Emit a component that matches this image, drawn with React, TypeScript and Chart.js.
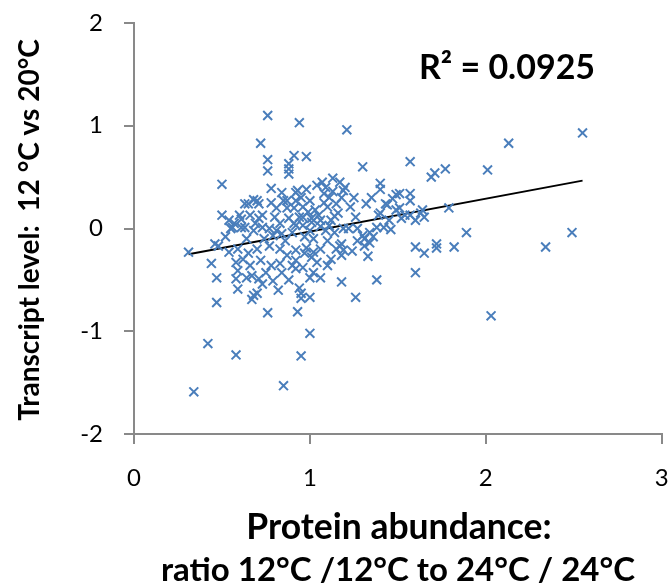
import React, { useEffect, useRef } from "react";
import { Chart, registerables } from "chart.js";

Chart.register(...registerables);

// ---- data: [protein ratio, transcript level] ----
const upperPoints: [number, number][] = [
  [0.76, 1.1], [0.94, 1.03], [1.21, 0.96], [0.72, 0.83], [0.76, 0.67], [0.76, 0.56],
  [0.5, 0.43], [0.88, 0.63], [0.88, 0.58], [0.88, 0.53], [0.91, 0.71], [0.98, 0.7],
  [1.3, 0.6], [1.57, 0.65], [2.55, 0.93], [2.13, 0.83], [2.01, 0.57], [1.77, 0.58],
  [1.69, 0.5], [1.71, 0.54],
];

const rightPoints: [number, number][] = [
  [1.57, 0.34], [1.57, 0.27], [1.51, 0.34], [1.79, 0.2], [1.64, 0.18], [1.54, 0.13],
  [1.57, 0.13], [1.6, 0.08], [1.65, 0.11], [1.63, 0.15], [1.89, -0.04], [2.49, -0.04],
  [2.34, -0.18], [1.82, -0.18], [1.6, -0.18], [1.72, -0.15], [1.72, -0.19], [1.65, -0.24],
  [1.6, -0.43], [2.03, -0.85], [1.51, 0.2],
];

const midUpperPoints: [number, number][] = [
  [1.4, 0.44], [1.4, 0.38], [1.49, 0.33], [1.47, 0.29], [1.44, 0.23], [1.32, 0.24],
  [1.23, 0.21], [1.26, 0.11], [1.39, 0.13], [1.49, 0.18], [1.13, 0.49], [1.17, 0.45],
  [1.07, 0.45], [1.04, 0.42], [0.98, 0.38], [0.93, 0.37], [1.19, 0.37], [1.18, 0.3],
  [1.11, 0.3], [1.08, 0.34], [1.15, 0.24], [1.1, 0.21], [1.0, 0.27], [0.96, 0.21],
  [0.92, 0.27], [1.16, 0.15], [1.05, 0.13], [1.01, 0.1], [1.12, 0.08], [0.96, 0.11],
  [1.4, 0.15], [1.43, 0.24],
];

const coreRightPoints: [number, number][] = [
  [0.91, 0.05], [0.96, 0.03], [1.01, 0.06], [1.06, 0.08], [1.11, 0.03], [1.22, 0.0],
  [1.27, 0.0], [1.34, -0.04], [1.3, -0.07], [1.38, 0.01], [1.42, 0.01], [1.46, -0.01],
  [1.27, -0.12], [1.34, -0.14], [1.31, -0.17], [1.17, -0.17], [1.19, -0.21], [1.18, -0.26],
  [1.15, -0.2], [1.33, -0.27], [1.1, -0.12], [1.06, -0.2], [1.02, -0.23], [0.98, -0.19],
  [0.97, -0.24], [1.01, -0.28], [0.92, -0.31], [0.9, -0.36], [0.96, -0.38], [1.02, -0.43],
  [1.06, -0.48], [1.0, -0.48], [0.94, -0.58], [1.18, -0.52], [1.38, -0.5], [1.26, -0.67],
  [0.95, -0.68], [1.0, -0.67], [0.93, -0.81], [1.0, -1.02], [0.95, -1.24], [1.18, -0.15],
  [1.31, -0.1], [1.0, -0.02], [1.02, -0.1], [1.09, -0.02], [1.14, -0.04], [1.19, 0.0],
  [1.04, -0.33], [1.1, -0.36],
];

const coreLeftPoints: [number, number][] = [
  [0.78, 0.39], [0.84, 0.35], [0.7, 0.27], [0.65, 0.24], [0.78, 0.25], [0.92, 0.35],
  [0.95, 0.3], [0.85, 0.27], [0.81, 0.2], [0.87, 0.2], [0.6, 0.13], [0.66, 0.13],
  [0.71, 0.1], [0.8, 0.11], [0.83, 0.05], [0.88, 0.1], [0.94, 0.11], [0.57, 0.05],
  [0.63, 0.01], [0.73, 0.01], [0.92, 0.03], [0.55, 0.0], [0.61, 0.01], [0.68, -0.02],
  [0.77, 0.0], [0.79, -0.07], [0.84, -0.05], [0.9, -0.04], [0.59, -0.2], [0.65, -0.24],
  [0.7, -0.2], [0.77, -0.17], [0.83, -0.2], [0.87, -0.26], [0.92, -0.21], [0.58, -0.33],
  [0.66, -0.36], [0.72, -0.31], [0.78, -0.36], [0.83, -0.34], [0.75, -0.43], [0.84, -0.43],
  [0.92, -0.39], [0.58, -0.49], [0.64, -0.48], [0.71, -0.49], [0.73, -0.54], [0.79, -0.51],
  [0.68, -0.65], [0.95, -0.63], [0.67, -0.69], [0.7, -0.63], [0.59, -0.41], [0.59, -0.59],
  [0.67, -0.46], [0.5, 0.13], [0.54, 0.08], [0.61, 0.09], [0.63, 0.24], [0.68, 0.28],
  [0.71, 0.24], [0.73, 0.13], [0.87, 0.27], [0.91, 0.2], [0.56, 0.01],
];

const coreExtraPoints: [number, number][] = [
  [1.03, 0.18], [1.08, 0.25], [1.13, 0.36], [1.2, 0.4], [1.09, 0.4], [1.14, 0.12],
  [0.99, 0.16], [1.06, 0.02], [0.97, -0.08], [0.86, -0.12], [0.81, -0.02], [0.74, -0.1],
  [0.69, 0.05], [0.64, -0.1], [0.62, -0.3], [0.88, -0.5], [0.82, -0.6], [1.12, -0.3],
  [1.24, -0.22], [1.36, -0.08], [1.45, 0.08], [1.52, 0.1], [1.35, 0.3], [1.25, 0.3],
];

const leftPoints: [number, number][] = [
  [0.31, -0.23], [0.44, -0.34], [0.47, -0.48], [0.48, -0.17], [0.54, -0.23], [0.47, -0.72],
  [0.76, -0.82], [0.42, -1.12], [0.58, -1.23], [0.34, -1.59], [0.85, -1.53], [0.46, -0.15],
  [0.52, -0.08],
];

const allPoints = [
  ...upperPoints, ...rightPoints, ...midUpperPoints, ...coreRightPoints,
  ...coreLeftPoints, ...coreExtraPoints, ...leftPoints,
];

const trendSlope = 0.32;
const trendIntercept = -0.35;
const rSquaredLabel = "R\u00B2 = 0.0925";
const xTitleLines = ["Protein abundance:", "ratio 12\u00B0C /12\u00B0C to 24\u00B0C / 24\u00B0C"];
const yTitle = "Transcript level:  12 \u00B0C vs 20\u00B0C";

const W = 670;
const H = 585;
const FONT = "Lato, 'Open Sans', sans-serif";
const AXIS_GRAY = "#898989";
const MARK_BLUE = "#4a7ebb";

export default function App() {
  const canvasRef = useRef<HTMLCanvasElement | null>(null);

  useEffect(() => {
    const canvas = canvasRef.current;
    if (!canvas) return;
    const xs = allPoints.map((p) => p[0]);
    const xMin = Math.min(...xs);
    const xMax = Math.max(...xs);

    const titlePlugin = {
      id: "titles",
      afterDraw(chart: any) {
        const ctx = chart.ctx as CanvasRenderingContext2D;
        ctx.save();
        ctx.fillStyle = "#000";
        ctx.textAlign = "center";
        ctx.textBaseline = "middle";
        ctx.font = `bold 34px ${FONT}`;
        ctx.fillText(rSquaredLabel, 507, 68);
        ctx.font = `bold 35.5px ${FONT}`;
        ctx.fillText(xTitleLines[0], 399, 528);
        ctx.font = `bold 33px ${FONT}`;
        ctx.fillText(xTitleLines[1], 398, 570);
        ctx.font = `bold 28px ${FONT}`;
        ctx.translate(30, 230);
        ctx.rotate(-Math.PI / 2);
        ctx.fillText(yTitle, 0, 0);
        ctx.restore();
      },
    };

    const chart = new Chart(canvas, {
      type: "scatter",
      data: {
        datasets: [
          {
            type: "scatter",
            data: allPoints.map(([x, y]) => ({ x, y })),
            pointStyle: "crossRot",
            pointRadius: 6.3,
            pointBorderWidth: 2,
            borderColor: MARK_BLUE,
            backgroundColor: MARK_BLUE,
          } as any,
          {
            type: "line",
            data: [
              { x: xMin, y: trendIntercept + trendSlope * xMin },
              { x: xMax, y: trendIntercept + trendSlope * xMax },
            ],
            borderColor: "#000",
            borderWidth: 2,
            pointRadius: 0,
            fill: false,
          } as any,
        ],
      },
      options: {
        animation: false,
        responsive: false,
        devicePixelRatio: 1,
        layout: { padding: { top: 23, right: 6, left: 0, bottom: 0 } },
        plugins: { legend: { display: false }, tooltip: { enabled: false } },
        scales: {
          x: {
            type: "linear",
            min: 0,
            max: 3,
            ticks: { stepSize: 1, padding: 20, color: "#000", font: { family: FONT, size: 24 } },
            grid: { drawOnChartArea: false, drawTicks: true, tickLength: 10, color: AXIS_GRAY, lineWidth: 2 },
            border: { display: true, color: AXIS_GRAY, width: 2 },
            afterFit: (scale: any) => {
              scale.height = H - 434;
              scale.paddingLeft = 0;
              scale.paddingRight = 0;
            },
          },
          y: {
            type: "linear",
            min: -2,
            max: 2,
            ticks: { stepSize: 1, padding: 21, color: "#000", font: { family: FONT, size: 24 } },
            grid: { drawOnChartArea: false, drawTicks: true, tickLength: 10, color: AXIS_GRAY, lineWidth: 2 },
            border: { display: true, color: AXIS_GRAY, width: 2 },
            afterFit: (scale: any) => {
              scale.width = 134;
              scale.paddingTop = 0;
              scale.paddingBottom = 0;
            },
          },
        },
      } as any,
      plugins: [titlePlugin],
    });
    return () => chart.destroy();
  }, []);

  return (
    <div style={{ position: "absolute", left: 0, top: 0, width: W, height: H, background: "#fff" }}>
      <canvas ref={canvasRef} width={W} height={H} style={{ display: "block" }} />
    </div>
  );
}
